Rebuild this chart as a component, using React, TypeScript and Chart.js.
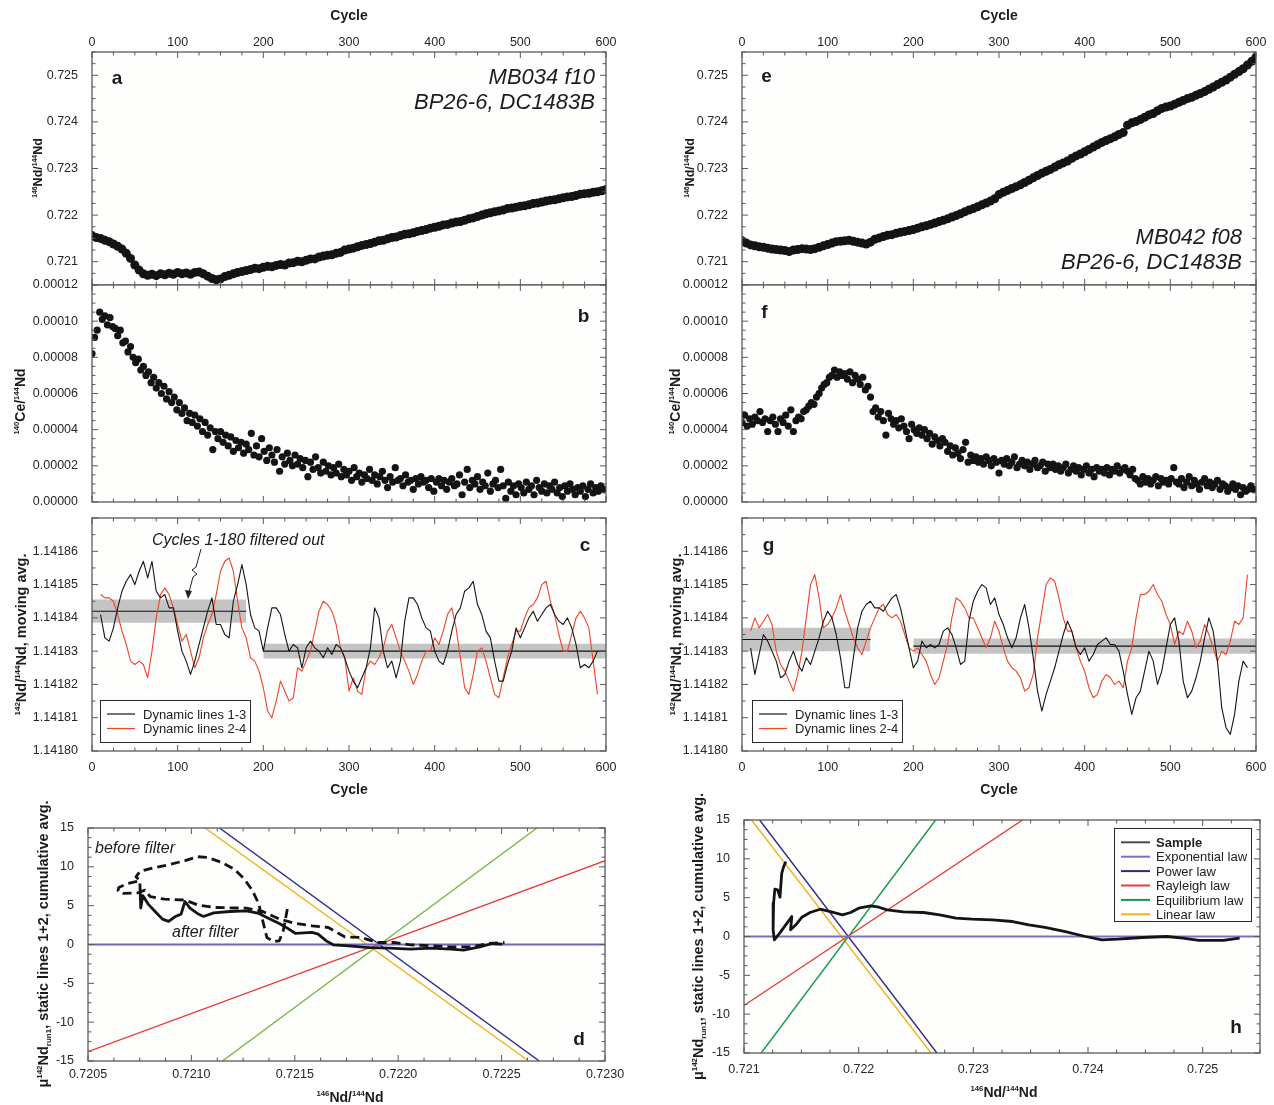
import React, { useEffect, useRef } from 'react';
import { Chart, registerables } from 'chart.js';

Chart.register(...registerables);

const FONT = '"Liberation Sans", Arial, Helvetica, sans-serif';
const TEXT = '#1c1c1c';
const TICK_TEXT = '#262626';
const FRAME = '#5a5a5a';
const PLOT_BG = '#fefefc';
const DOT = '#141414';
const BLACK_LINE = '#151515';
const RED_LINE = '#ee4428';
const BAND = '#c4c4c4';

// ---------------- tick labels ----------------
const cycleTicks = [0, 100, 200, 300, 400, 500, 600];
const nd146Ticks = [0.721, 0.722, 0.723, 0.724, 0.725];
const ceTicks = [0, 0.00002, 0.00004, 0.00006, 0.00008, 0.0001, 0.00012];
const movTicks = [1.1418, 1.14181, 1.14182, 1.14183, 1.14184, 1.14185, 1.14186];
const muTicks = [-15, -10, -5, 0, 5, 10, 15];
const dRatioTicks = [0.7205, 0.721, 0.7215, 0.722, 0.7225, 0.723];
const hRatioTicks = [0.721, 0.722, 0.723, 0.724, 0.725];

// ---------------- labels ----------------
const sampleLeft = ['MB034 f10', 'BP26-6, DC1483B'];
const sampleRight = ['MB042 f08', 'BP26-6, DC1483B'];
const dynamicNames = ['Dynamic lines 1-3', 'Dynamic lines 2-4'];
const lawNames = ['Exponential law', 'Power law', 'Rayleigh law', 'Equilibrium law', 'Linear law'];
const lawColorsD = ['#7464b6', '#2e2a86', '#e63b36', '#7ab844', '#f4b11c'];
const lawColorsH = ['#7f6fc0', '#2e2a86', '#e63b36', '#129a4a', '#f4b11c'];

// ---------------- panel a / e : 146Nd/144Nd every 5 cycles (0..600) ----------------
const nd146Left = [
  0.72156, 0.72152, 0.7215, 0.72146, 0.72143, 0.72138, 0.72133, 0.72127, 0.72118, 0.72107,
  0.72093, 0.72082, 0.72074, 0.72071, 0.72073, 0.7207, 0.72074, 0.72072, 0.72075, 0.72073,
  0.72077, 0.72074, 0.72076, 0.72073, 0.72077, 0.72078, 0.72074, 0.72069, 0.72064, 0.72061,
  0.72063, 0.72068, 0.72071, 0.72074, 0.72077, 0.72079, 0.72081, 0.72083, 0.72086, 0.72085,
  0.72088, 0.7209, 0.72089, 0.72092, 0.72094, 0.72093, 0.72097, 0.72098, 0.72101, 0.721,
  0.72103, 0.72106, 0.72106, 0.7211, 0.72112, 0.72114, 0.72115, 0.72118, 0.7212, 0.72125,
  0.72127, 0.72129, 0.72132, 0.72135, 0.72137, 0.72139, 0.72142, 0.72145, 0.72146, 0.72149,
  0.72152, 0.72153, 0.72156, 0.72159, 0.7216, 0.72162, 0.72165, 0.72167, 0.72169, 0.72172,
  0.72174, 0.72176, 0.72179, 0.7218, 0.72183, 0.72185, 0.72186, 0.72189, 0.72192, 0.72194,
  0.72197, 0.722, 0.72203, 0.72205, 0.72207, 0.72209, 0.72211, 0.72214, 0.72215, 0.72217,
  0.72219, 0.7222, 0.72222, 0.72225, 0.72226, 0.72228, 0.7223, 0.72232, 0.72233, 0.72235,
  0.72237, 0.72239, 0.7224, 0.72242, 0.72245, 0.72246, 0.72247, 0.72249, 0.7225, 0.72252,
  0.72255,
];
const nd146Right = [
  0.72145, 0.7214, 0.72136, 0.72134, 0.72132, 0.72131, 0.72129, 0.72127, 0.72126, 0.72125,
  0.72124, 0.72122, 0.72125, 0.72126, 0.72128, 0.72127, 0.72126, 0.72128, 0.72131, 0.72134,
  0.72137, 0.7214, 0.72143, 0.72144, 0.72145, 0.72146, 0.72144, 0.72142, 0.7214, 0.72138,
  0.72142, 0.72148, 0.72151, 0.72154, 0.72157, 0.72158, 0.72161, 0.72163, 0.72165, 0.72167,
  0.72169, 0.72172, 0.72175, 0.72177, 0.7218, 0.72183, 0.72186, 0.72189, 0.72192, 0.72196,
  0.72199, 0.72203, 0.72207, 0.72211, 0.72214, 0.72218, 0.72222, 0.72226, 0.7223, 0.72235,
  0.72244, 0.72249, 0.72253, 0.72257, 0.72261, 0.72265, 0.7227, 0.72275, 0.7228, 0.72285,
  0.7229, 0.72294, 0.72298, 0.72303, 0.72308, 0.72312, 0.72316, 0.72322, 0.72327, 0.72331,
  0.72336, 0.72341, 0.72346, 0.72351, 0.72356, 0.7236, 0.72364, 0.72368, 0.72373, 0.72377,
  0.72393, 0.72398, 0.72401, 0.72405, 0.7241, 0.72415, 0.72418, 0.72424, 0.72429, 0.72432,
  0.72434, 0.72438, 0.72442, 0.72446, 0.7245, 0.72453, 0.72457, 0.72461, 0.72465, 0.7247,
  0.72475, 0.7248, 0.72485, 0.7249, 0.72496, 0.72502, 0.72508, 0.72514, 0.72522, 0.7253,
  0.72539,
];

// ---------------- panel b / f : 140Ce/144Nd every 3 cycles (0..597) ----------------
const ceLeft = [
  8.2e-5, 9.1e-5, 9.5e-5, 10.5e-5, 10.1e-5, 10.3e-5, 9.8e-5, 10.2e-5, 9.7e-5, 9.6e-5,
  9.2e-5, 9.5e-5, 8.8e-5, 8.9e-5, 8.3e-5, 8.6e-5, 8.0e-5, 7.7e-5, 7.9e-5, 7.3e-5,
  7.5e-5, 7.0e-5, 7.2e-5, 6.6e-5, 6.9e-5, 6.3e-5, 6.6e-5, 6.0e-5, 6.4e-5, 5.7e-5,
  6.1e-5, 5.5e-5, 5.8e-5, 5.1e-5, 5.5e-5, 4.9e-5, 5.2e-5, 4.5e-5, 4.9e-5, 4.4e-5,
  4.8e-5, 4.2e-5, 4.6e-5, 3.9e-5, 4.4e-5, 3.7e-5, 4.1e-5, 2.9e-5, 3.9e-5, 3.5e-5,
  3.9e-5, 3.3e-5, 3.7e-5, 3.1e-5, 3.6e-5, 2.8e-5, 3.4e-5, 3.0e-5, 3.3e-5, 2.7e-5,
  3.2e-5, 2.9e-5, 3.8e-5, 2.6e-5, 3.1e-5, 2.5e-5, 3.5e-5, 2.8e-5, 2.3e-5, 3.0e-5,
  2.6e-5, 2.2e-5, 2.9e-5, 1.7e-5, 2.5e-5, 2.1e-5, 2.7e-5, 2.3e-5, 2.0e-5, 2.6e-5,
  2.1e-5, 2.4e-5, 1.9e-5, 2.3e-5, 1.4e-5, 2.2e-5, 1.8e-5, 2.5e-5, 1.9e-5, 1.6e-5,
  2.2e-5, 1.7e-5, 2.0e-5, 1.5e-5, 1.9e-5, 1.6e-5, 2.1e-5, 1.4e-5, 1.8e-5, 1.5e-5,
  1.7e-5, 1.2e-5, 1.9e-5, 1.4e-5, 1.6e-5, 1.1e-5, 1.5e-5, 1.3e-5, 1.8e-5, 1.2e-5,
  1.5e-5, 1.0e-5, 1.4e-5, 1.7e-5, 1.2e-5, 0.8e-5, 1.4e-5, 1.1e-5, 1.9e-5, 1.2e-5,
  1.3e-5, 0.9e-5, 1.5e-5, 1.1e-5, 1.2e-5, 0.7e-5, 1.3e-5, 1.0e-5, 1.4e-5, 1.1e-5,
  1.2e-5, 0.8e-5, 1.3e-5, 0.6e-5, 1.1e-5, 1.3e-5, 0.9e-5, 1.2e-5, 0.7e-5, 1.1e-5,
  1.3e-5, 0.9e-5, 1.0e-5, 1.5e-5, 0.4e-5, 1.1e-5, 1.8e-5, 0.8e-5, 1.2e-5, 1.0e-5,
  1.4e-5, 0.7e-5, 1.1e-5, 0.9e-5, 1.6e-5, 0.6e-5, 1.0e-5, 1.2e-5, 0.8e-5, 1.8e-5,
  0.9e-5, 0.2e-5, 1.1e-5, 0.6e-5, 0.9e-5, 0.4e-5, 1.0e-5, 0.8e-5, 0.5e-5, 1.1e-5,
  0.7e-5, 0.9e-5, 0.4e-5, 1.2e-5, 0.8e-5, 0.6e-5, 1.0e-5, 0.5e-5, 0.9e-5, 0.7e-5,
  1.1e-5, 0.5e-5, 0.8e-5, 0.3e-5, 0.9e-5, 0.6e-5, 1.0e-5, 0.7e-5, 0.4e-5, 0.8e-5,
  0.6e-5, 0.9e-5, 0.3e-5, 0.7e-5, 1.0e-5, 0.5e-5, 0.8e-5, 0.6e-5, 0.9e-5, 0.7e-5,
];
const ceRight = [
  4.4e-5, 4.8e-5, 4.2e-5, 4.6e-5, 4.3e-5, 4.7e-5, 4.5e-5, 5.0e-5, 4.4e-5, 4.6e-5,
  3.9e-5, 4.5e-5, 4.7e-5, 4.3e-5, 3.9e-5, 4.6e-5, 4.4e-5, 4.8e-5, 4.2e-5, 5.1e-5,
  3.9e-5, 4.5e-5, 4.7e-5, 4.6e-5, 5.0e-5, 5.1e-5, 5.3e-5, 5.5e-5, 5.4e-5, 5.8e-5,
  6.0e-5, 6.3e-5, 6.5e-5, 6.6e-5, 6.9e-5, 7.0e-5, 7.3e-5, 6.9e-5, 7.2e-5, 7.0e-5,
  7.1e-5, 6.8e-5, 7.2e-5, 6.6e-5, 7.0e-5, 6.8e-5, 6.5e-5, 6.9e-5, 6.2e-5, 6.4e-5,
  5.8e-5, 5.0e-5, 5.2e-5, 4.7e-5, 5.0e-5, 4.5e-5, 3.7e-5, 4.9e-5, 4.6e-5, 4.3e-5,
  4.5e-5, 4.1e-5, 4.6e-5, 4.2e-5, 3.9e-5, 3.5e-5, 4.3e-5, 4.0e-5, 3.8e-5, 4.1e-5,
  3.7e-5, 4.0e-5, 3.5e-5, 3.8e-5, 3.2e-5, 3.6e-5, 3.4e-5, 3.1e-5, 3.5e-5, 3.3e-5,
  2.8e-5, 3.1e-5, 2.6e-5, 3.0e-5, 2.7e-5, 2.4e-5, 2.9e-5, 3.3e-5, 2.2e-5, 2.6e-5,
  2.3e-5, 2.5e-5, 2.2e-5, 2.4e-5, 2.1e-5, 2.5e-5, 2.3e-5, 2.0e-5, 2.4e-5, 2.2e-5,
  1.6e-5, 2.3e-5, 2.1e-5, 2.4e-5, 2.0e-5, 2.2e-5, 2.5e-5, 1.9e-5, 2.1e-5, 2.3e-5,
  2.0e-5, 2.2e-5, 1.8e-5, 2.1e-5, 2.3e-5, 1.9e-5, 2.0e-5, 2.2e-5, 1.7e-5, 2.1e-5,
  1.9e-5, 2.1e-5, 1.8e-5, 2.0e-5, 1.7e-5, 1.9e-5, 2.1e-5, 1.6e-5, 1.8e-5, 2.0e-5,
  1.7e-5, 1.9e-5, 1.5e-5, 1.8e-5, 2.0e-5, 1.6e-5, 1.8e-5, 1.4e-5, 1.9e-5, 1.7e-5,
  1.8e-5, 1.6e-5, 1.9e-5, 1.5e-5, 1.8e-5, 1.7e-5, 2.0e-5, 1.6e-5, 1.8e-5, 1.9e-5,
  1.7e-5, 1.5e-5, 1.8e-5, 1.3e-5, 1.2e-5, 1.0e-5, 1.4e-5, 1.1e-5, 1.3e-5, 1.0e-5,
  1.2e-5, 1.4e-5, 0.9e-5, 1.3e-5, 1.1e-5, 1.2e-5, 1.0e-5, 1.3e-5, 1.9e-5, 1.1e-5,
  1.0e-5, 1.3e-5, 0.8e-5, 1.1e-5, 1.4e-5, 0.9e-5, 1.2e-5, 1.0e-5, 0.7e-5, 1.1e-5,
  1.3e-5, 0.9e-5, 1.1e-5, 0.8e-5, 1.0e-5, 1.2e-5, 0.7e-5, 1.0e-5, 0.9e-5, 0.6e-5,
  0.8e-5, 1.0e-5, 0.7e-5, 0.9e-5, 0.4e-5, 0.8e-5, 0.6e-5, 0.7e-5, 0.9e-5, 0.7e-5,
];

// ---------------- panel c / g : 142Nd/144Nd moving avg, every 5 cycles (10..590) ----------------
const movLeftBlack = [
  1.141841, 1.141834, 1.141833, 1.141837, 1.141843, 1.141848, 1.141851, 1.141853, 1.14185, 1.141854,
  1.141857, 1.141852, 1.141857, 1.141848, 1.141846, 1.141847, 1.141843, 1.141843, 1.141836, 1.14183,
  1.141827, 1.141823, 1.141827, 1.141832, 1.141837, 1.141842, 1.141846, 1.141838, 1.141838, 1.141835,
  1.141834, 1.141845, 1.14185, 1.141856, 1.14185, 1.141841, 1.141837, 1.141836, 1.14183, 1.141837,
  1.141843, 1.141843, 1.141841, 1.141835, 1.14183, 1.141832, 1.141831, 1.141825, 1.141831, 1.141833,
  1.141831, 1.14183, 1.141828, 1.141831, 1.141829, 1.141832, 1.141831, 1.141828, 1.141824, 1.141821,
  1.141819, 1.141822, 1.141825, 1.141831, 1.141843, 1.14184, 1.14183, 1.141825, 1.141827, 1.141822,
  1.141827, 1.141839, 1.141846, 1.141846, 1.141844, 1.14184, 1.141837, 1.141836, 1.14183, 1.141827,
  1.141826, 1.14183, 1.141836, 1.141841, 1.141843, 1.141848, 1.141849, 1.141851, 1.141844, 1.141841,
  1.141836, 1.141834, 1.141827, 1.141821, 1.141821, 1.141826, 1.14183, 1.141837, 1.141834, 1.141837,
  1.14184, 1.141842, 1.141839, 1.141841, 1.141843, 1.141844, 1.141841, 1.141839, 1.141838, 1.14184,
  1.141837, 1.141832, 1.141825, 1.141826, 1.141825, 1.141827, 1.14183,
];
const movLeftRed = [
  1.141847, 1.141846, 1.141846, 1.141845, 1.141841, 1.141836, 1.141832, 1.141827, 1.141826, 1.141827,
  1.141826, 1.141822, 1.14183, 1.14184, 1.141847, 1.141849, 1.141847, 1.141843, 1.141838, 1.141833,
  1.141835, 1.14183, 1.141825, 1.141828, 1.141834, 1.141838, 1.141841, 1.141847, 1.141854, 1.141857,
  1.141858, 1.141854, 1.141845, 1.141837, 1.141834, 1.141828, 1.141827, 1.141824, 1.141819, 1.141812,
  1.14181, 1.141815, 1.141821, 1.141818, 1.141815, 1.141816, 1.141825, 1.141824, 1.141827, 1.14183,
  1.141836, 1.141842, 1.141845, 1.141844, 1.141842, 1.141838, 1.141831, 1.141828, 1.141818, 1.141822,
  1.141818, 1.141817, 1.141825, 1.141827, 1.141826, 1.141828, 1.141831, 1.141836, 1.141838, 1.141834,
  1.14183, 1.141827, 1.141824, 1.14182, 1.141823, 1.141827, 1.14183, 1.14183, 1.141834, 1.141832,
  1.141836, 1.141841, 1.141843, 1.141837, 1.141828, 1.141819, 1.141817, 1.141823, 1.14183, 1.141831,
  1.141827, 1.141822, 1.141817, 1.141816, 1.141822, 1.141828, 1.141832, 1.141836, 1.141836, 1.14184,
  1.141843, 1.141844, 1.141846, 1.14185, 1.141851, 1.141845, 1.141841, 1.141835, 1.14183, 1.14183,
  1.141835, 1.14184, 1.141842, 1.14184, 1.141837, 1.141827, 1.141817,
];
const movRightBlack = [
  1.141831, 1.141823, 1.141829, 1.141835, 1.141833, 1.14183, 1.141827, 1.141822, 1.141823, 1.141827,
  1.14183, 1.141826, 1.141824, 1.141828, 1.141826, 1.14183, 1.141834, 1.141839, 1.141842, 1.14184,
  1.141835, 1.141828, 1.141819, 1.141819, 1.141828, 1.141837, 1.141842, 1.141844, 1.141845, 1.141843,
  1.141843, 1.141842, 1.141844, 1.141846, 1.141847, 1.141843, 1.141837, 1.141831, 1.141825, 1.141827,
  1.141833, 1.141831, 1.141832, 1.141831, 1.141832, 1.141836, 1.141837, 1.141835, 1.141831, 1.141826,
  1.141827, 1.141839, 1.141845, 1.141848, 1.14185, 1.141849, 1.141844, 1.141846, 1.141841, 1.141838,
  1.141834, 1.141831, 1.141834, 1.14184, 1.141844, 1.141837, 1.141828, 1.141818, 1.141812, 1.141817,
  1.141821, 1.141825, 1.14183, 1.141835, 1.141839, 1.141836, 1.141831, 1.141829, 1.141831, 1.141827,
  1.141829, 1.141832, 1.141833, 1.141834, 1.141832, 1.141832, 1.14183, 1.141824, 1.141817, 1.141811,
  1.141816, 1.141818, 1.141824, 1.14183, 1.141827, 1.14182, 1.141824, 1.141831, 1.141838, 1.14184,
  1.141833, 1.141821, 1.141816, 1.141818, 1.141822, 1.141827, 1.141834, 1.14184, 1.141836, 1.141827,
  1.141813, 1.141807, 1.141805, 1.141811, 1.141821, 1.141827, 1.141825,
];
const movRightRed = [
  1.141836, 1.14184, 1.141837, 1.141839, 1.141841, 1.141838, 1.14183, 1.141826, 1.141824, 1.141821,
  1.141818, 1.141823, 1.14183, 1.14184, 1.14185, 1.141853, 1.141846, 1.141837, 1.141838, 1.14184,
  1.141843, 1.141847, 1.141842, 1.141838, 1.141834, 1.141831, 1.141829, 1.141833, 1.141837, 1.14184,
  1.141843, 1.141844, 1.141841, 1.14184, 1.141841, 1.141839, 1.141835, 1.141831, 1.14183, 1.141831,
  1.141829, 1.141827, 1.141823, 1.14182, 1.141822, 1.141827, 1.141832, 1.14184, 1.141846, 1.141845,
  1.141843, 1.14184, 1.14184, 1.141837, 1.141834, 1.141831, 1.141834, 1.141839, 1.141836, 1.141831,
  1.141827, 1.141825, 1.141824, 1.141822, 1.141818, 1.141819, 1.141823, 1.141834, 1.141842, 1.14185,
  1.141852, 1.141851, 1.141846, 1.14184, 1.141836, 1.141836, 1.141831, 1.141827, 1.141824, 1.141819,
  1.141816, 1.141817, 1.141821, 1.141823, 1.141822, 1.14182, 1.141821, 1.141819, 1.141827, 1.141831,
  1.14184, 1.141847, 1.141847, 1.141848, 1.14185, 1.141847, 1.141845, 1.141841, 1.141838, 1.141832,
  1.141836, 1.141835, 1.141839, 1.141836, 1.141831, 1.141833, 1.141838, 1.141835, 1.141831, 1.141827,
  1.14183, 1.141829, 1.141833, 1.141839, 1.141838, 1.14184, 1.141853,
];
// mean ± band (start cycle, end cycle, mean, half-width)
const bandLeftStart = [0, 200];
const bandLeftEnd = [180, 600];
const bandLeftMean = [1.141842, 1.14183];
const bandLeftHalf = [0.0000035, 0.0000022];
const bandRightStart = [0, 200];
const bandRightEnd = [150, 600];
const bandRightMean = [1.1418335, 1.1418315];
const bandRightHalf = [0.0000035, 0.0000023];

// ---------------- panel d / h ----------------
const lawX0 = [0.72, 0.721136, 0.7205, 0.72115, 0.721066];
const lawY0 = [0, 15, -13.8, -15, 15];
const lawX1 = [0.726, 0.722682, 0.72343, 0.722671, 0.722631];
const lawY1 = [0, -15, 15, 15, -15];

const dAfterX = [0.720751, 0.720755, 0.720765, 0.720791, 0.720821, 0.72086, 0.72089, 0.72092, 0.72095, 0.720969, 0.720993, 0.721029, 0.721058, 0.721108, 0.721187, 0.721266, 0.721326, 0.721365, 0.721425, 0.721464, 0.721504, 0.721583, 0.721613, 0.721652, 0.721686, 0.721761, 0.72186, 0.721959, 0.722058, 0.722157, 0.722256, 0.722316, 0.722395, 0.722454, 0.722504];
const dAfterY = [7.86, 4.7, 6.3, 5.2, 4.34, 3.27, 2.97, 3.57, 3.91, 5.54, 4.68, 4.0, 3.61, 4.08, 4.25, 4.34, 4.0, 3.48, 2.71, 2.11, 1.42, 1.55, 1.33, 0.47, -0.04, -0.17, -0.39, -0.47, -0.6, -0.47, -0.6, -0.73, -0.3, 0.13, 0.04];
const dBeforeX = [0.721464, 0.721444, 0.721425, 0.721395, 0.721365, 0.721345, 0.721326, 0.721296, 0.721256, 0.721207, 0.721147, 0.721078, 0.721029, 0.720969, 0.72089, 0.720811, 0.720751, 0.720732, 0.720751, 0.720692, 0.720649, 0.720645, 0.720672, 0.720742, 0.720775, 0.720801, 0.72087, 0.720969, 0.721029, 0.721108, 0.721266, 0.721345, 0.721425, 0.721504, 0.721583, 0.721662, 0.721741, 0.721821, 0.7219, 0.721979, 0.722058, 0.722157, 0.722256, 0.722355, 0.722434, 0.722514];
const dBeforeY = [4.56, 1.76, 0.47, 0.39, 0.9, 3.05, 5.2, 6.92, 8.42, 9.71, 10.57, 11.22, 11.3, 10.79, 10.27, 9.84, 9.41, 8.72, 8.21, 7.86, 7.35, 6.92, 6.57, 6.66, 7.0, 6.15, 5.84, 5.72, 5.11, 4.77, 4.68, 4.25, 3.27, 2.71, 2.41, 2.19, 0.99, 0.9, 0.26, 0.26, -0.04, -0.17, -0.3, -0.3, 0.13, 0.26];
const hSampleX = [0.721364, 0.721346, 0.721329, 0.721314, 0.721293, 0.721269, 0.721258, 0.721254, 0.721265, 0.721311, 0.721364, 0.721417, 0.721406, 0.721452, 0.721505, 0.721576, 0.721664, 0.721753, 0.721859, 0.72193, 0.722, 0.722106, 0.722177, 0.722247, 0.722389, 0.722565, 0.722707, 0.722848, 0.722989, 0.723166, 0.723343, 0.723484, 0.723625, 0.723802, 0.723979, 0.72412, 0.724261, 0.724473, 0.724686, 0.724827, 0.724968, 0.72518, 0.725322];
const hSampleY = [9.64, 9.0, 8.14, 5.06, 6.0, 6.09, 4.29, 0.86, -0.43, 0.43, 1.5, 2.57, 0.86, 1.5, 2.49, 3.09, 3.51, 3.21, 2.79, 3.09, 3.64, 3.94, 3.77, 3.43, 3.17, 3.09, 2.79, 2.36, 2.23, 2.14, 1.93, 1.5, 1.16, 0.64, 0, -0.43, -0.34, -0.13, 0, -0.21, -0.51, -0.51, -0.21];

// ---------------- helpers ----------------
type Seg = [string, number];
const ndTitle: Seg[] = [['146', 1], ['Nd/', 0], ['144', 1], ['Nd', 0]];
const ceTitle: Seg[] = [['140', 1], ['Ce/', 0], ['144', 1], ['Nd', 0]];
const movTitle: Seg[] = [['142', 1], ['Nd/', 0], ['144', 1], ['Nd, moving avg.', 0]];
const muTitle: Seg[] = [['\u03bc', 0], ['142', 1], ['Nd', 0], ['run1', -1], [', static lines 1+2, cumulative avg.', 0]];

const xy = (xs: number[], ys: number[]) => ys.map((y, i) => ({ x: xs[i], y }));
const seq = (n: number, start: number, step: number) => Array.from({ length: n }, (_, i) => start + i * step);

function rich(ctx: CanvasRenderingContext2D, segs: Seg[], x: number, y: number, size: number, rotate: boolean) {
  ctx.save();
  ctx.translate(x, y);
  if (rotate) ctx.rotate(-Math.PI / 2);
  const small = size * 0.55;
  const fontFor = (k: number) => `bold ${k ? small : size}px ${FONT}`;
  let total = 0;
  const ws = segs.map(([t, k]) => {
    ctx.font = fontFor(k);
    const w = ctx.measureText(t).width;
    total += w;
    return w;
  });
  let cx = -total / 2;
  ctx.textBaseline = 'alphabetic';
  ctx.textAlign = 'left';
  ctx.fillStyle = TEXT;
  segs.forEach(([t, k], i) => {
    ctx.font = fontFor(k);
    const dy = k === 1 ? -size * 0.4 : k === -1 ? size * 0.2 : 0;
    ctx.fillText(t, cx, size * 0.36 + dy);
    cx += ws[i];
  });
  ctx.restore();
}

function label(ctx: CanvasRenderingContext2D, s: string, x: number, y: number, font: string, align: CanvasTextAlign = 'left') {
  ctx.save();
  ctx.font = font;
  ctx.textAlign = align;
  ctx.textBaseline = 'alphabetic';
  ctx.fillStyle = TEXT;
  ctx.fillText(s, x, y);
  ctx.restore();
}

interface LegendRow { text: string; color: string; width: number; bold?: boolean }
function legend(ctx: CanvasRenderingContext2D, box: number[], rows: LegendRow[], y0: number, dy: number, lx0: number, lx1: number, tx: number, size: number) {
  ctx.save();
  ctx.fillStyle = '#ffffff';
  ctx.fillRect(box[0], box[1], box[2] - box[0], box[3] - box[1]);
  ctx.strokeStyle = '#2a2a2a';
  ctx.lineWidth = 1;
  ctx.strokeRect(box[0], box[1], box[2] - box[0], box[3] - box[1]);
  rows.forEach((r, i) => {
    const y = y0 + i * dy;
    ctx.strokeStyle = r.color;
    ctx.lineWidth = r.width;
    ctx.beginPath();
    ctx.moveTo(lx0, y);
    ctx.lineTo(lx1, y);
    ctx.stroke();
    ctx.font = `${r.bold ? 'bold ' : ''}${size}px ${FONT}`;
    ctx.fillStyle = '#222';
    ctx.textBaseline = 'alphabetic';
    ctx.fillText(r.text, tx, y + size * 0.36);
  });
  ctx.restore();
}

interface Axis { min: number; max: number; ticks: number[]; major: number; minor: number; dec: number; pos: 'top' | 'bottom' | null; pad: number }
interface Spec {
  key: string;
  rect: { l: number; t: number; r: number; b: number };
  m: { ml: number; mt: number; mr: number; mb: number };
  x: Axis;
  y: Axis;
  datasets: any[];
  draw: (ctx: CanvasRenderingContext2D) => void;
}

function tickMarks(ctx: CanvasRenderingContext2D, a: any, scale: any, ax: Axis, horizontal: boolean) {
  const n0 = Math.ceil(ax.min / ax.minor - 1e-6);
  const n1 = Math.floor(ax.max / ax.minor + 1e-6);
  ctx.beginPath();
  for (let n = n0; n <= n1; n++) {
    const v = n * ax.minor;
    const r = v / ax.major;
    const isMajor = Math.abs(r - Math.round(r)) < 1e-4;
    const len = isMajor ? 6 : 3.5;
    const p = scale.getPixelForValue(v);
    if (horizontal) {
      ctx.moveTo(p, a.top); ctx.lineTo(p, a.top + len);
      ctx.moveTo(p, a.bottom); ctx.lineTo(p, a.bottom - len);
    } else {
      ctx.moveTo(a.left, p); ctx.lineTo(a.left + len, p);
      ctx.moveTo(a.right, p); ctx.lineTo(a.right - len, p);
    }
  }
  ctx.stroke();
}

function overlay(s: Spec) {
  return {
    id: 'overlay_' + s.key,
    beforeDatasetsDraw(chart: any) {
      const { ctx, chartArea: a } = chart;
      ctx.save();
      ctx.fillStyle = PLOT_BG;
      ctx.fillRect(a.left, a.top, a.right - a.left, a.bottom - a.top);
      ctx.restore();
    },
    afterDatasetsDraw(chart: any) {
      const { ctx, chartArea: a, scales } = chart;
      ctx.save();
      ctx.strokeStyle = FRAME;
      ctx.lineWidth = 1;
      tickMarks(ctx, a, scales.x, s.x, true);
      tickMarks(ctx, a, scales.y, s.y, false);
      ctx.lineWidth = 1.3;
      ctx.strokeRect(a.left, a.top, a.right - a.left, a.bottom - a.top);
      ctx.translate(-(s.rect.l - s.m.ml), -(s.rect.t - s.m.mt));
      s.draw(ctx);
      ctx.restore();
    },
  };
}

function axisOpts(ax: Axis, isX: boolean, s: Spec) {
  return {
    type: 'linear',
    position: isX ? ax.pos || 'bottom' : 'left',
    display: isX ? !!ax.pos : true,
    min: ax.min,
    max: ax.max,
    grid: { display: false },
    border: { display: false },
    ticks: {
      padding: ax.pad,
      color: TICK_TEXT,
      font: { family: FONT, size: 12.5 },
      maxRotation: 0,
      autoSkip: false,
      callback: (v: number) => Number(v).toFixed(ax.dec),
    },
    afterBuildTicks: (sc: any) => {
      sc.ticks = ax.ticks.map((v) => ({ value: v }));
    },
    afterFit: (sc: any) => {
      if (isX) sc.height = ax.pos === 'top' ? s.m.mt : s.m.mb;
      else sc.width = s.m.ml;
    },
  };
}

function buildConfig(s: Spec): any {
  const xPos = s.x.pos;
  return {
    type: 'scatter',
    data: { datasets: s.datasets },
    options: {
      responsive: false,
      animation: false,
      events: [],
      layout: {
        padding: {
          left: 0,
          right: s.m.mr,
          top: xPos === 'top' ? 0 : s.m.mt,
          bottom: xPos === 'bottom' ? 0 : s.m.mb,
        },
      },
      plugins: { legend: { display: false }, tooltip: { enabled: false } },
      scales: { x: axisOpts(s.x, true, s), y: axisOpts(s.y, false, s) },
    },
    plugins: [overlay(s)],
  };
}

// ---------------- dataset builders ----------------
const dots = (data: any[], r: number) => ({
  type: 'scatter', data, pointRadius: r, pointHoverRadius: r, backgroundColor: DOT,
  borderColor: DOT, pointBorderWidth: 0, showLine: false, order: 1,
});
const line = (data: any[], color: string, w: number, order: number, dash: number[] = []) => ({
  type: 'line', data, borderColor: color, borderWidth: w, pointRadius: 0, fill: false,
  tension: 0, order, borderDash: dash, borderJoinStyle: 'round', borderCapStyle: 'butt',
});
const bandSets = (starts: number[], ends: number[], means: number[], halves: number[]) => {
  const out: any[] = [];
  starts.forEach((x0, i) => {
    const x1 = ends[i];
    out.push({
      type: 'line', data: [{ x: x0, y: means[i] + halves[i] }, { x: x1, y: means[i] + halves[i] }],
      borderWidth: 0, borderColor: 'rgba(0,0,0,0)', pointRadius: 0, fill: { value: means[i] - halves[i] },
      backgroundColor: BAND, order: 6,
    });
    out.push(line([{ x: x0, y: means[i] }, { x: x1, y: means[i] }], '#111', 1.1, 5));
  });
  return out;
};
const lawSets = (colors: string[]) =>
  lawNames.map((_, i) => line([{ x: lawX0[i], y: lawY0[i] }, { x: lawX1[i], y: lawY1[i] }], colors[i], i === 0 ? 1.8 : 1.4, 4));

const cycAxisTop: Axis = { min: 0, max: 600, ticks: cycleTicks, major: 100, minor: 25, dec: 0, pos: 'top', pad: -6 };
const cycAxisHidden: Axis = { ...cycAxisTop, pos: null };
const cycAxisBottom: Axis = { ...cycAxisTop, pos: 'bottom', pad: 1 };
const ndAxis: Axis = { min: 0.7205, max: 0.7255, ticks: nd146Ticks, major: 0.001, minor: 0.00025, dec: 3, pos: null, pad: 6 };
const ceAxis: Axis = { min: 0, max: 0.00012, ticks: ceTicks, major: 0.00002, minor: 0.000005, dec: 5, pos: null, pad: 6 };
const movAxis: Axis = { min: 1.1418, max: 1.14187, ticks: movTicks, major: 0.00001, minor: 0.000005, dec: 5, pos: null, pad: 6 };
const muAxis: Axis = { min: -15, max: 15, ticks: muTicks, major: 5, minor: 1.25, dec: 0, pos: null, pad: 6 };

const i13 = `italic 22px ${FONT}`;
const letter = `bold 19px ${FONT}`;
const cycleFont = `bold 14px ${FONT}`;

const specs: Spec[] = [
  {
    key: 'a',
    rect: { l: 92, t: 52, r: 606, b: 285 }, m: { ml: 92, mt: 52, mr: 30, mb: 16 },
    x: cycAxisTop, y: ndAxis,
    datasets: [dots(xy(seq(nd146Left.length, 0, 5), nd146Left), 4.5)],
    draw: (ctx) => {
      rich(ctx, ndTitle, 37, 168, 12.5, true);
      label(ctx, 'Cycle', 349, 20, cycleFont, 'center');
      label(ctx, 'a', 117, 84, letter, 'center');
      label(ctx, sampleLeft[0], 595, 84, i13, 'right');
      label(ctx, sampleLeft[1], 595, 109, i13, 'right');
    },
  },
  {
    key: 'b',
    rect: { l: 92, t: 285, r: 606, b: 518 }, m: { ml: 92, mt: 16, mr: 30, mb: 16 },
    x: cycAxisHidden, y: ceAxis,
    datasets: [dots(xy(seq(ceLeft.length, 0, 3), ceLeft), 3.6)],
    draw: (ctx) => {
      rich(ctx, ceTitle, 20, 401.5, 14, true);
      label(ctx, 'b', 583.5, 321.7, letter, 'center');
    },
  },
  {
    key: 'c',
    rect: { l: 92, t: 518, r: 606, b: 751 }, m: { ml: 92, mt: 16, mr: 30, mb: 50 },
    x: cycAxisBottom, y: movAxis,
    datasets: [
      ...bandSets(bandLeftStart, bandLeftEnd, bandLeftMean, bandLeftHalf),
      line(xy(seq(movLeftRed.length, 10, 5), movLeftRed), RED_LINE, 1.1, 2),
      line(xy(seq(movLeftBlack.length, 10, 5), movLeftBlack), BLACK_LINE, 1.1, 1),
    ],
    draw: (ctx) => {
      rich(ctx, movTitle, 21, 634.5, 14.5, true);
      label(ctx, 'Cycle', 349, 794, cycleFont, 'center');
      label(ctx, 'c', 585, 550.7, letter, 'center');
      label(ctx, 'Cycles 1-180 filtered out', 152, 545, `italic 16px ${FONT}`, 'left');
      ctx.save();
      ctx.strokeStyle = '#222';
      ctx.fillStyle = '#222';
      ctx.lineWidth = 1;
      ctx.beginPath();
      ctx.moveTo(201, 549); ctx.lineTo(196, 567); ctx.lineTo(192, 570); ctx.lineTo(197, 574);
      ctx.lineTo(193, 577); ctx.lineTo(189, 592);
      ctx.stroke();
      ctx.beginPath();
      ctx.moveTo(188, 599); ctx.lineTo(185, 590); ctx.lineTo(192, 591); ctx.closePath();
      ctx.fill();
      ctx.restore();
      legend(ctx, [100.5, 700.5, 250.5, 742.5], [
        { text: dynamicNames[0], color: BLACK_LINE, width: 1.2 },
        { text: dynamicNames[1], color: RED_LINE, width: 1.2 },
      ], 714, 14.5, 107, 135, 143, 13);
    },
  },
  {
    key: 'd',
    rect: { l: 88, t: 828, r: 605, b: 1061 }, m: { ml: 88, mt: 40, mr: 30, mb: 44 },
    x: { min: 0.7205, max: 0.723, ticks: dRatioTicks, major: 0.0005, minor: 0.000125, dec: 4, pos: 'bottom', pad: -2 },
    y: muAxis,
    datasets: [
      ...lawSets(lawColorsD),
      line(xy(dBeforeX, dBeforeY), '#141414', 2.8, 2, [9, 5]),
      line(xy(dAfterX, dAfterY), '#141414', 2.8, 1),
    ],
    draw: (ctx) => {
      rich(ctx, muTitle, 43, 944, 14.5, true);
      rich(ctx, ndTitle, 350, 1097, 14, false);
      label(ctx, 'd', 579, 1045, letter, 'center');
      label(ctx, 'before filter', 95, 853, `italic 16px ${FONT}`, 'left');
      label(ctx, 'after filter', 172, 937, `italic 16px ${FONT}`, 'left');
    },
  },
  {
    key: 'e',
    rect: { l: 742, t: 52, r: 1256, b: 285 }, m: { ml: 102, mt: 52, mr: 18, mb: 16 },
    x: cycAxisTop, y: ndAxis,
    datasets: [dots(xy(seq(nd146Right.length, 0, 5), nd146Right), 4.5)],
    draw: (ctx) => {
      rich(ctx, ndTitle, 689, 168, 12.5, true);
      label(ctx, 'Cycle', 999, 20, cycleFont, 'center');
      label(ctx, 'e', 766.5, 81.7, letter, 'center');
      label(ctx, sampleRight[0], 1242, 244, i13, 'right');
      label(ctx, sampleRight[1], 1242, 269, i13, 'right');
    },
  },
  {
    key: 'f',
    rect: { l: 742, t: 285, r: 1256, b: 518 }, m: { ml: 102, mt: 16, mr: 18, mb: 16 },
    x: cycAxisHidden, y: ceAxis,
    datasets: [dots(xy(seq(ceRight.length, 0, 3), ceRight), 3.6)],
    draw: (ctx) => {
      rich(ctx, ceTitle, 675, 401.5, 14, true);
      label(ctx, 'f', 764.5, 318.3, letter, 'center');
    },
  },
  {
    key: 'g',
    rect: { l: 742, t: 518, r: 1256, b: 751 }, m: { ml: 102, mt: 16, mr: 18, mb: 50 },
    x: cycAxisBottom, y: movAxis,
    datasets: [
      ...bandSets(bandRightStart, bandRightEnd, bandRightMean, bandRightHalf),
      line(xy(seq(movRightRed.length, 10, 5), movRightRed), RED_LINE, 1.1, 2),
      line(xy(seq(movRightBlack.length, 10, 5), movRightBlack), BLACK_LINE, 1.1, 1),
    ],
    draw: (ctx) => {
      rich(ctx, movTitle, 676, 634.5, 14.5, true);
      label(ctx, 'Cycle', 999, 794, cycleFont, 'center');
      label(ctx, 'g', 768.5, 550.7, letter, 'center');
      legend(ctx, [752.5, 700.5, 902.5, 742.5], [
        { text: dynamicNames[0], color: BLACK_LINE, width: 1.2 },
        { text: dynamicNames[1], color: RED_LINE, width: 1.2 },
      ], 714, 14.5, 759, 787, 795, 13);
    },
  },
  {
    key: 'h',
    rect: { l: 744, t: 820, r: 1260, b: 1053 }, m: { ml: 104, mt: 32, mr: 14, mb: 52 },
    x: { min: 0.721, max: 0.7255, ticks: hRatioTicks, major: 0.001, minor: 0.00025, dec: 3, pos: 'bottom', pad: 1 },
    y: muAxis,
    datasets: [
      ...lawSets(lawColorsH),
      line(xy(hSampleX, hSampleY), '#141414', 2.8, 1),
    ],
    draw: (ctx) => {
      rich(ctx, muTitle, 698, 936.5, 14.5, true);
      rich(ctx, ndTitle, 1004, 1092, 14, false);
      label(ctx, 'h', 1236, 1033, letter, 'center');
      legend(ctx, [1114.5, 828.5, 1251.5, 921.5], [
        { text: 'Sample', color: '#4a4a4a', width: 2, bold: true },
        ...lawNames.map((n, i) => ({ text: n, color: lawColorsH[i], width: 2 })),
      ], 842.3, 14.4, 1121, 1150, 1156, 13);
    },
  },
];

function Panel({ spec }: { spec: Spec }) {
  const ref = useRef<HTMLCanvasElement>(null);
  const { l, t, r, b } = spec.rect;
  const { ml, mt, mr, mb } = spec.m;
  const W = r - l + ml + mr;
  const H = b - t + mt + mb;
  useEffect(() => {
    const chart = new Chart(ref.current as HTMLCanvasElement, buildConfig(spec));
    return () => chart.destroy();
  }, [spec]);
  return (
    <canvas
      ref={ref}
      width={W}
      height={H}
      style={{ position: 'absolute', left: l - ml, top: t - mt, width: W, height: H }}
    />
  );
}

export default function App() {
  return (
    <div style={{ position: 'absolute', left: 0, top: 0, width: 1274, height: 1105, background: '#ffffff', overflow: 'hidden' }}>
      {specs.map((s) => (
        <Panel key={s.key} spec={s} />
      ))}
    </div>
  );
}
